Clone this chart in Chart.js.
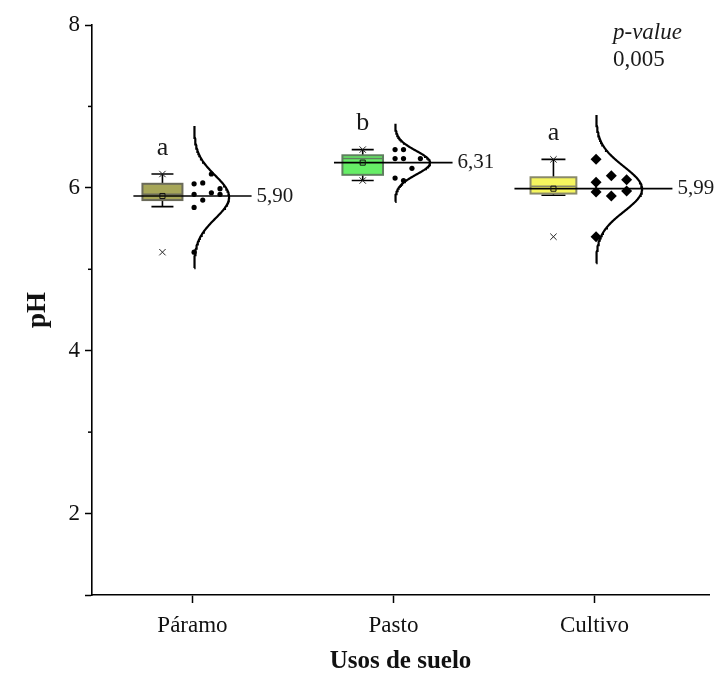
<!DOCTYPE html>
<html><head><meta charset="utf-8">
<script src="https://cdn.jsdelivr.net/npm/chart.js@4/dist/chart.umd.min.js"></script>
<style>html,body{margin:0;padding:0;background:#fff;}#wrap{width:718px;height:673px;}</style>
</head><body><div id="wrap"><canvas id="c" width="718" height="673"></canvas></div>
<script>
// ---- data ----
const categories = ['Páramo', 'Pasto', 'Cultivo'];
const paramoValues = [6.17, 6.05, 6.06, 5.92, 5.94, 5.99, 5.92, 5.85, 5.76, 5.21];
const pastoValues = [6.47, 6.47, 6.36, 6.36, 6.36, 6.24, 6.12, 6.09];
const cultivoValues = [6.35, 6.15, 6.10, 6.07, 5.95, 5.90, 5.96, 5.40];
const q1Values = [5.85, 6.16, 5.93];
const medianValues = [5.92, 6.36, 6.02];
const q3Values = [6.05, 6.40, 6.13];
const whiskerLowValues = [5.77, 6.09, 5.91];
const whiskerHighValues = [6.17, 6.47, 6.35];
const meanValues = [5.90, 6.31, 5.99];
const meanLabels = ['5,90', '6,31', '5,99'];
const groupLetters = ['a', 'b', 'a'];
const yTickLabels = [2, 4, 6, 8];
const pValueTitle = 'p-value';
const pValueText = '0,005';

// ---- layout / style (not data) ----
const groupsValues = [paramoValues, pastoValues, cultivoValues];
const jitterCols = [[2,0,1,0,2,3,3,1,0,0],[0,1,0,1,3,2,0,1],[0,1,2,0,0,1,2,0]];
const layout = [
  {boxL:-0.249, boxR:-0.050, capHalf:11, lineL:-0.294, lineR:0.294, col0:0.008, colStep:0.043, curveW:0.174, style:'circle', r:2.6, fill:'#a6a658', border:'#6a6a5a'},
  {boxL:-0.254, boxR:-0.052, capHalf:11, lineL:-0.296, lineR:0.294, col0:0.008, colStep:0.042, curveW:0.174, style:'circle', r:2.6, fill:'#66ee66', border:'#5f7f5f'},
  {boxL:-0.318, boxR:-0.090, capHalf:12, lineL:-0.398, lineR:0.388, col0:0.008, colStep:0.076, curveW:0.229, style:'rectRot', r:5.5, fill:'#f6f65e', border:'#8a8a6a'}
];
const SERIF = '"Liberation Serif", "DejaVu Serif", serif';

function meanOf(a){return a.reduce((s,v)=>s+v,0)/a.length;}
function sdOf(a){const m=meanOf(a);return Math.sqrt(a.reduce((s,v)=>s+(v-m)*(v-m),0)/(a.length-1));}

const datasets = [];
// mean square markers
datasets.push({type:'scatter', data: meanValues.map((m,g)=>({x:g+1+(layout[g].boxL+layout[g].boxR)/2, y:m})),
  pointStyle:'rect', pointRadius:3.6, backgroundColor:'rgba(0,0,0,0)', borderColor:'#111', borderWidth:1});
// min / max cross markers
datasets.push({type:'scatter', data: groupsValues.flatMap((vals,g)=>{
  const xc=g+1+(layout[g].boxL+layout[g].boxR)/2;
  return [{x:xc,y:Math.max(...vals)},{x:xc,y:Math.min(...vals)}];
}), pointStyle:'crossRot', pointRadius:4.5, borderColor:'#222', borderWidth:1});
// scatter points
groupsValues.forEach((vals,g)=>{
  const L=layout[g];
  datasets.push({type:'scatter', data: vals.map((v,i)=>({x:g+1+L.col0+jitterCols[g][i]*L.colStep, y:v})),
    pointStyle:L.style, pointRadius:L.r, backgroundColor:'#000', borderColor:'#000', borderWidth:0});
});
// mean lines
meanValues.forEach((m,g)=>{
  const L=layout[g];
  datasets.push({type:'line', data:[{x:g+1+L.lineL,y:m},{x:g+1+L.lineR,y:m}], borderColor:'#000', borderWidth:1.6, pointRadius:0});
});
// distribution curves (normal from data mean and sd)
groupsValues.forEach((vals,g)=>{
  const L=layout[g]; const m=meanOf(vals), s=sdOf(vals); const pts=[];
  for(let k=-66;k<=66;k++){const z=k*0.05; pts.push({x:g+1+L.col0+L.curveW*Math.exp(-z*z/2), y:m+z*s});}
  datasets.push({type:'line', data:pts, borderColor:'#000', borderWidth:2.2, pointRadius:0, tension:0});
});

const boxPlugin = {
  id:'boxes',
  beforeDatasetsDraw(chart){
    const ctx=chart.ctx, xs=chart.scales.x, ys=chart.scales.y;
    categories.forEach((c,g)=>{
      const L=layout[g];
      const l=xs.getPixelForValue(g+1+L.boxL), r=xs.getPixelForValue(g+1+L.boxR);
      const t=ys.getPixelForValue(q3Values[g]), b=ys.getPixelForValue(q1Values[g]);
      const xc=(l+r)/2;
      ctx.save();
      // whiskers
      ctx.strokeStyle='#000'; ctx.lineWidth=1.6;
      const wh=ys.getPixelForValue(whiskerHighValues[g]), wl=ys.getPixelForValue(whiskerLowValues[g]);
      ctx.beginPath();
      ctx.moveTo(xc,t); ctx.lineTo(xc,wh);
      ctx.moveTo(xc-L.capHalf,wh); ctx.lineTo(xc+L.capHalf,wh);
      ctx.moveTo(xc,b); ctx.lineTo(xc,wl);
      ctx.moveTo(xc-L.capHalf,wl); ctx.lineTo(xc+L.capHalf,wl);
      ctx.stroke();
      // box
      ctx.fillStyle=L.fill; ctx.fillRect(l,t,r-l,b-t);
      ctx.strokeStyle=L.border; ctx.lineWidth=2; ctx.strokeRect(l,t,r-l,b-t);
      const md=ys.getPixelForValue(medianValues[g]);
      ctx.beginPath(); ctx.moveTo(l,md); ctx.lineTo(r,md); ctx.lineWidth=1.5; ctx.stroke();
      ctx.restore();
    });
  },
  afterDraw(chart){
    const ctx=chart.ctx, xs=chart.scales.x, ys=chart.scales.y, ca=chart.chartArea;
    ctx.save();
    // minor y ticks
    ctx.strokeStyle='#000'; ctx.lineWidth=1.5;
    [3,5,7].forEach(v=>{const y=ys.getPixelForValue(v); ctx.beginPath(); ctx.moveTo(ca.left-4,y); ctx.lineTo(ca.left,y); ctx.stroke();});
    // mean labels
    ctx.fillStyle='#1a1a1a'; ctx.textBaseline='middle'; ctx.textAlign='left';
    ctx.font='21px '+SERIF;
    meanValues.forEach((m,g)=>{const L=layout[g]; ctx.fillText(meanLabels[g], xs.getPixelForValue(g+1+L.lineR)+5, ys.getPixelForValue(m));});
    // group letters
    ctx.font='26px '+SERIF; ctx.textAlign='center';
    groupLetters.forEach((t,g)=>{const L=layout[g]; const xc=xs.getPixelForValue(g+1+(L.boxL+L.boxR)/2);
      ctx.fillText(t, xc, ys.getPixelForValue(whiskerHighValues[g])-26);});
    // p-value
    ctx.textAlign='left';
    ctx.font='italic 23px '+SERIF; ctx.fillText(pValueTitle, ca.right-96, ca.top+8);
    ctx.font='23px '+SERIF; ctx.fillText(pValueText, ca.right-96, ca.top+35);
    ctx.restore();
  }
};

new Chart(document.getElementById('c'), {
  type:'scatter',
  data:{datasets},
  options:{
    responsive:false, animation:false, devicePixelRatio:1,
    layout:{padding:{left:0,right:9,top:25,bottom:0}},
    plugins:{legend:{display:false}, tooltip:{enabled:false}},
    scales:{
      x:{type:'linear', min:0.5, max:3.57,
        afterBuildTicks(s){s.ticks=[1,2,3].map(v=>({value:v}));},
        afterFit(s){s.height=78;},
        ticks:{callback:(v)=>categories[v-1]||'', font:{family:SERIF,size:23}, color:'#111', padding:9, maxRotation:0, autoSkip:false},
        grid:{drawOnChartArea:false, drawTicks:true, tickLength:8, tickColor:'#000', tickWidth:1.5},
        border:{display:true, color:'#000', width:1.6},
        title:{display:true, text:'Usos de suelo', font:{family:SERIF,size:25,weight:'bold',lineHeight:1}, color:'#111', padding:{top:0,bottom:-1}}
      },
      y:{type:'linear', min:1, max:8,
        afterBuildTicks(s){s.ticks=[1].concat(yTickLabels).map(v=>({value:v}));},
        afterFit(s){s.width=92;},
        ticks:{callback:(v)=>yTickLabels.includes(v)?String(v):'', font:{family:SERIF,size:23}, color:'#111', padding:5},
        grid:{drawOnChartArea:false, drawTicks:true, tickLength:7, tickColor:'#000', tickWidth:1.5},
        border:{display:true, color:'#000', width:1.6},
        title:{display:true, text:'pH', font:{family:SERIF,size:27,weight:'bold',lineHeight:1}, color:'#111', padding:{top:25,bottom:0}}
      }
    }
  },
  plugins:[boxPlugin]
});
</script></body></html>
